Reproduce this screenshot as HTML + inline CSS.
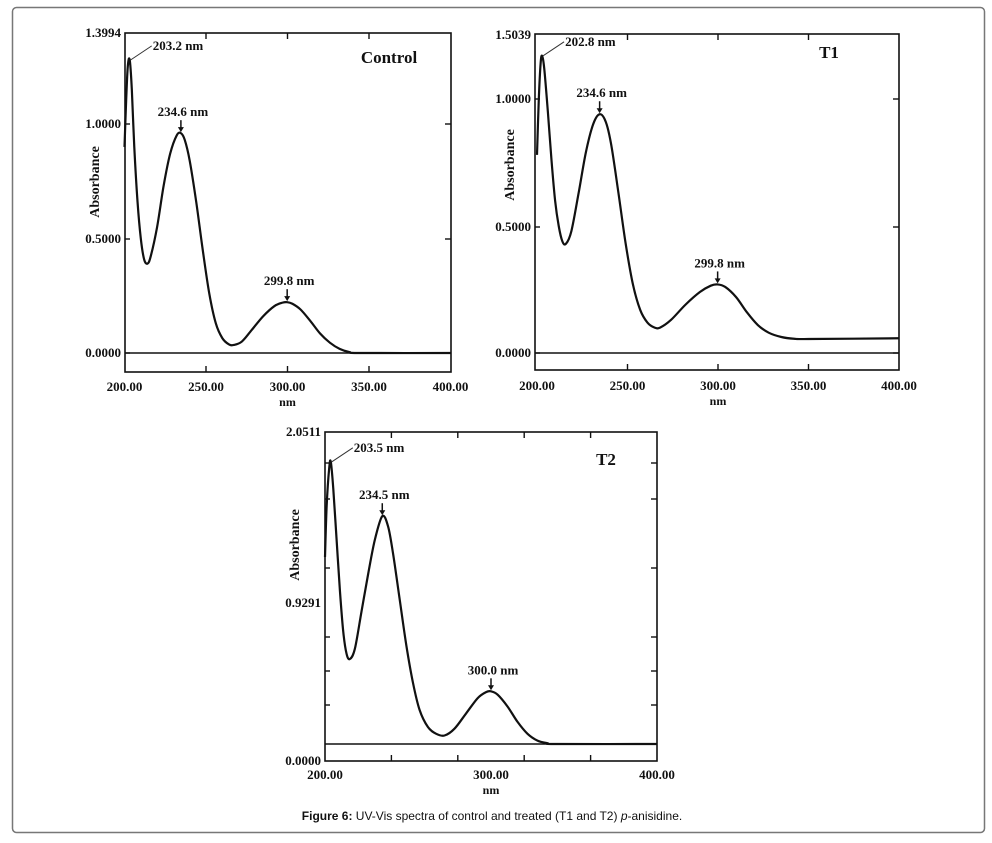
<!DOCTYPE html>
<html><head><meta charset="utf-8"><style>
body{margin:0;background:#fff;}
svg{display:block;}
text{font-family:"Liberation Serif",serif;font-weight:bold;fill:#111;}
.cap{font-family:"Liberation Sans",sans-serif;font-weight:normal;font-size:12px;fill:#111;}
</style></head><body>
<svg id="fig" width="992" height="843" viewBox="0 0 992 843">
<rect x="12.5" y="7.5" width="972" height="825" rx="4" fill="none" stroke="#777" stroke-width="1.5"/>
<text class="cap" x="492" y="820" text-anchor="middle"><tspan font-weight="bold" style="font-weight:bold">Figure 6:</tspan> UV-Vis spectra of control and treated (T1 and T2) <tspan font-style="italic">p</tspan>-anisidine.</text>
</svg>
<script>
// ---- data ----
const controlWl = [200,201,202,203.2,204.5,206,208,210,212,214,216,220,224,228,232,234.6,237,240,244,248,252,256,260,264,267,272,278,285,292,297,299.8,303,308,314,320,326,332,338,345,400];
const controlAbs = [0.9,1.1,1.25,1.28,1.15,0.9,0.66,0.5,0.41,0.39,0.42,0.55,0.73,0.87,0.95,0.96,0.93,0.84,0.66,0.45,0.26,0.13,0.065,0.038,0.035,0.05,0.1,0.16,0.205,0.22,0.222,0.215,0.19,0.14,0.085,0.045,0.018,0.004,0,0];
const t1Wl = [200,201,202,202.8,204,206,208,210,212,214,216,219,223,227,231,234.6,238,241,245,249,253,257,261,265,268,274,282,290,296,299.8,304,310,316,322,328,335,342,350,400];
const t1Abs = [0.78,1.0,1.14,1.17,1.12,0.95,0.76,0.6,0.5,0.44,0.43,0.48,0.63,0.79,0.9,0.94,0.91,0.82,0.63,0.43,0.27,0.17,0.12,0.10,0.10,0.13,0.19,0.24,0.265,0.27,0.26,0.22,0.16,0.11,0.08,0.063,0.056,0.055,0.058];
const t2Wl = [200,201,202.5,203.5,205,207,209,211,213,215,218,222,226,230,234.5,238,241,245,249,253,257,262,267,272,278,285,292,297,300,304,310,316,322,328,334,340,400];
const t2Abs = [1.2,1.5,1.72,1.76,1.6,1.3,1.0,0.76,0.63,0.60,0.66,0.88,1.1,1.3,1.44,1.38,1.22,0.95,0.68,0.46,0.3,0.2,0.16,0.15,0.19,0.28,0.37,0.405,0.41,0.39,0.32,0.23,0.16,0.12,0.105,0.1,0.1];
const controlYTicks = ["1.3994","1.0000","0.5000","0.0000"];
const controlXTicks = [200,250,300,350,400];
const t1YTicks = ["1.5039","1.0000","0.5000","0.0000"];
const t1XTicks = [200,250,300,350,400];
const t2YTicks = ["2.0511","0.9291","0.0000"];
const t2XTicks = [200,300,400];
const controlPeaks = ["203.2 nm","234.6 nm","299.8 nm"];
const t1Peaks = ["202.8 nm","234.6 nm","299.8 nm"];
const t2Peaks = ["203.5 nm","234.5 nm","300.0 nm"];

const NS="http://www.w3.org/2000/svg";
const svg=document.getElementById('fig');
function mk(tag,attrs,parent,txt){const e=document.createElementNS(NS,tag);for(const k in attrs)e.setAttribute(k,attrs[k]);if(txt!==undefined)e.textContent=txt;(parent||svg).appendChild(e);return e;}

function panel(cfg){
  const g=mk('g',{});
  
  
  const xS=w=>cfg.x0+(w-200)/200*(cfg.x1-cfg.x0);
  const yS=a=>cfg.y0-a*cfg.yPer;
  const box=mk('rect',{x:cfg.bx0,y:cfg.by0,width:cfg.bx1-cfg.bx0,height:cfg.by1-cfg.by0,fill:'none',stroke:'#111','stroke-width':1.6},g);
  
  
  // x ticks
  cfg.xTickMarks.forEach(v=>{const X=xS(v);
    mk('line',{x1:X,x2:X,y1:cfg.by1,y2:cfg.by1-6,stroke:'#111','stroke-width':1.4},g);
    mk('line',{x1:X,x2:X,y1:cfg.by0,y2:cfg.by0+6,stroke:'#111','stroke-width':1.4},g);});
  cfg.xTicks.forEach(v=>{
    const t=mk('text',{x:xS(v),y:cfg.xLabY,'text-anchor':'middle','font-size':13},g,v.toFixed(2));
    
    
  });
  cfg.yTickMarks.forEach(Y=>{
    mk('line',{x1:cfg.bx1,x2:cfg.bx1-6,y1:Y,y2:Y,stroke:'#111','stroke-width':1.4},g);
    mk('line',{x1:cfg.bx0,x2:cfg.bx0+5,y1:Y,y2:Y,stroke:'#111','stroke-width':1.4},g);});
  cfg.yTicks.forEach((s,i)=>{
    const t=mk('text',{x:cfg.bx0-4,y:cfg.yLabPos[i]+4,'text-anchor':'end','font-size':13},g,s);
    
    
  });
  const xt=mk('text',{x:(cfg.x0+cfg.x1)/2,y:cfg.xLabY+15,'text-anchor':'middle','font-size':12},g,'nm');
  
  
  const yt=mk('text',{x:0,y:0,'text-anchor':'middle','font-size':14,transform:`translate(${cfg.yTitleX},${cfg.yTitleY}) rotate(-90)`},g,'Absorbance');
  
  
  // baseline
  const bl=mk('line',{x1:cfg.bx0,x2:cfg.bx1,y1:yS(cfg.base),y2:yS(cfg.base),stroke:'#111','stroke-width':1.6},g);
  
  
  // curve (catmull-rom)
  const P=cfg.wl.map((w,i)=>[xS(w),yS(cfg.ab[i])]);
  let d=`M${P[0][0]},${P[0][1]}`;
  for(let i=0;i<P.length-1;i++){const p0=P[i-1]||P[i],p1=P[i],p2=P[i+1],p3=P[i+2]||p2;
    d+=` C${p1[0]+(p2[0]-p0[0])/6},${p1[1]+(p2[1]-p0[1])/6} ${p2[0]-(p3[0]-p1[0])/6},${p2[1]-(p3[1]-p1[1])/6} ${p2[0]},${p2[1]}`;}
  const c=mk('path',{d:d,fill:'none',stroke:'#111','stroke-width':2.2,'stroke-linejoin':'round'},g);
  
  
  // peak annotations
  const pk=cfg.peakIdx.map(i=>[xS(cfg.wl[i]),yS(cfg.ab[i])]);
  mk('line',{x1:pk[0][0]+1,y1:pk[0][1],x2:pk[0][0]+22,y2:pk[0][1]-14,stroke:'#333','stroke-width':1},g);
  const a0=mk('text',{x:pk[0][0]+23,y:pk[0][1]-10,'font-size':13},g,cfg.peaks[0]);
  
  
  [1,2].forEach(k=>{const [X,Y]=pk[k];
    mk('line',{x1:X,x2:X,y1:Y-13,y2:Y-3,stroke:'#111','stroke-width':1.5},g);
    mk('path',{d:`M${X-3},${Y-6} L${X+3},${Y-6} L${X},${Y-1} Z`,fill:'#111'},g);
    const t=mk('text',{x:X+2,y:Y-17,'text-anchor':'middle','font-size':13},g,cfg.peaks[k]);
    
    });
  const tt=mk('text',{x:cfg.titleX,y:cfg.titleY,'text-anchor':'middle','font-size':17},g,cfg.title);
  
  
}

panel({name:'control',title:'Control',titleX:389,titleY:63,wl:controlWl,ab:controlAbs,peaks:controlPeaks,peakIdx:[3,15,30],
  x0:124.5,x1:450.5,y0:353,yPer:229,bx0:125,bx1:451,by0:33,by1:372,base:0,
  xTicks:controlXTicks,xTickMarks:[250,300,350],xLabY:391,yTicks:controlYTicks,yLabPos:[33,124,239,353],yTickMarks:[124,239,353],
  yTitleX:99,yTitleY:182});
panel({name:'t1',title:'T1',titleX:829,titleY:58,wl:t1Wl,ab:t1Abs,peaks:t1Peaks,peakIdx:[3,15,29],
  x0:537,x1:899,y0:353,yPer:254,bx0:535,bx1:899,by0:34,by1:370,base:0,
  xTicks:t1XTicks,xTickMarks:[250,300,350],xLabY:390,yTicks:t1YTicks,yLabPos:[35,99,227,353],yTickMarks:[99,227,353],
  yTitleX:514,yTitleY:165});
panel({name:'t2',title:'T2',titleX:606,titleY:465,wl:t2Wl,ab:t2Abs,peaks:t2Peaks,peakIdx:[3,14,28],
  x0:325,x1:657,y0:761,yPer:170,bx0:325,bx1:657,by0:432,by1:761,base:0.1,
  xTicks:t2XTicks,xTickMarks:[240,280,320,360],xLabY:779,yTicks:t2YTicks,yLabPos:[432,603,761],yTickMarks:[463,499,568,637,671,705],
  yTitleX:299,yTitleY:545});
</script>
</body></html>
